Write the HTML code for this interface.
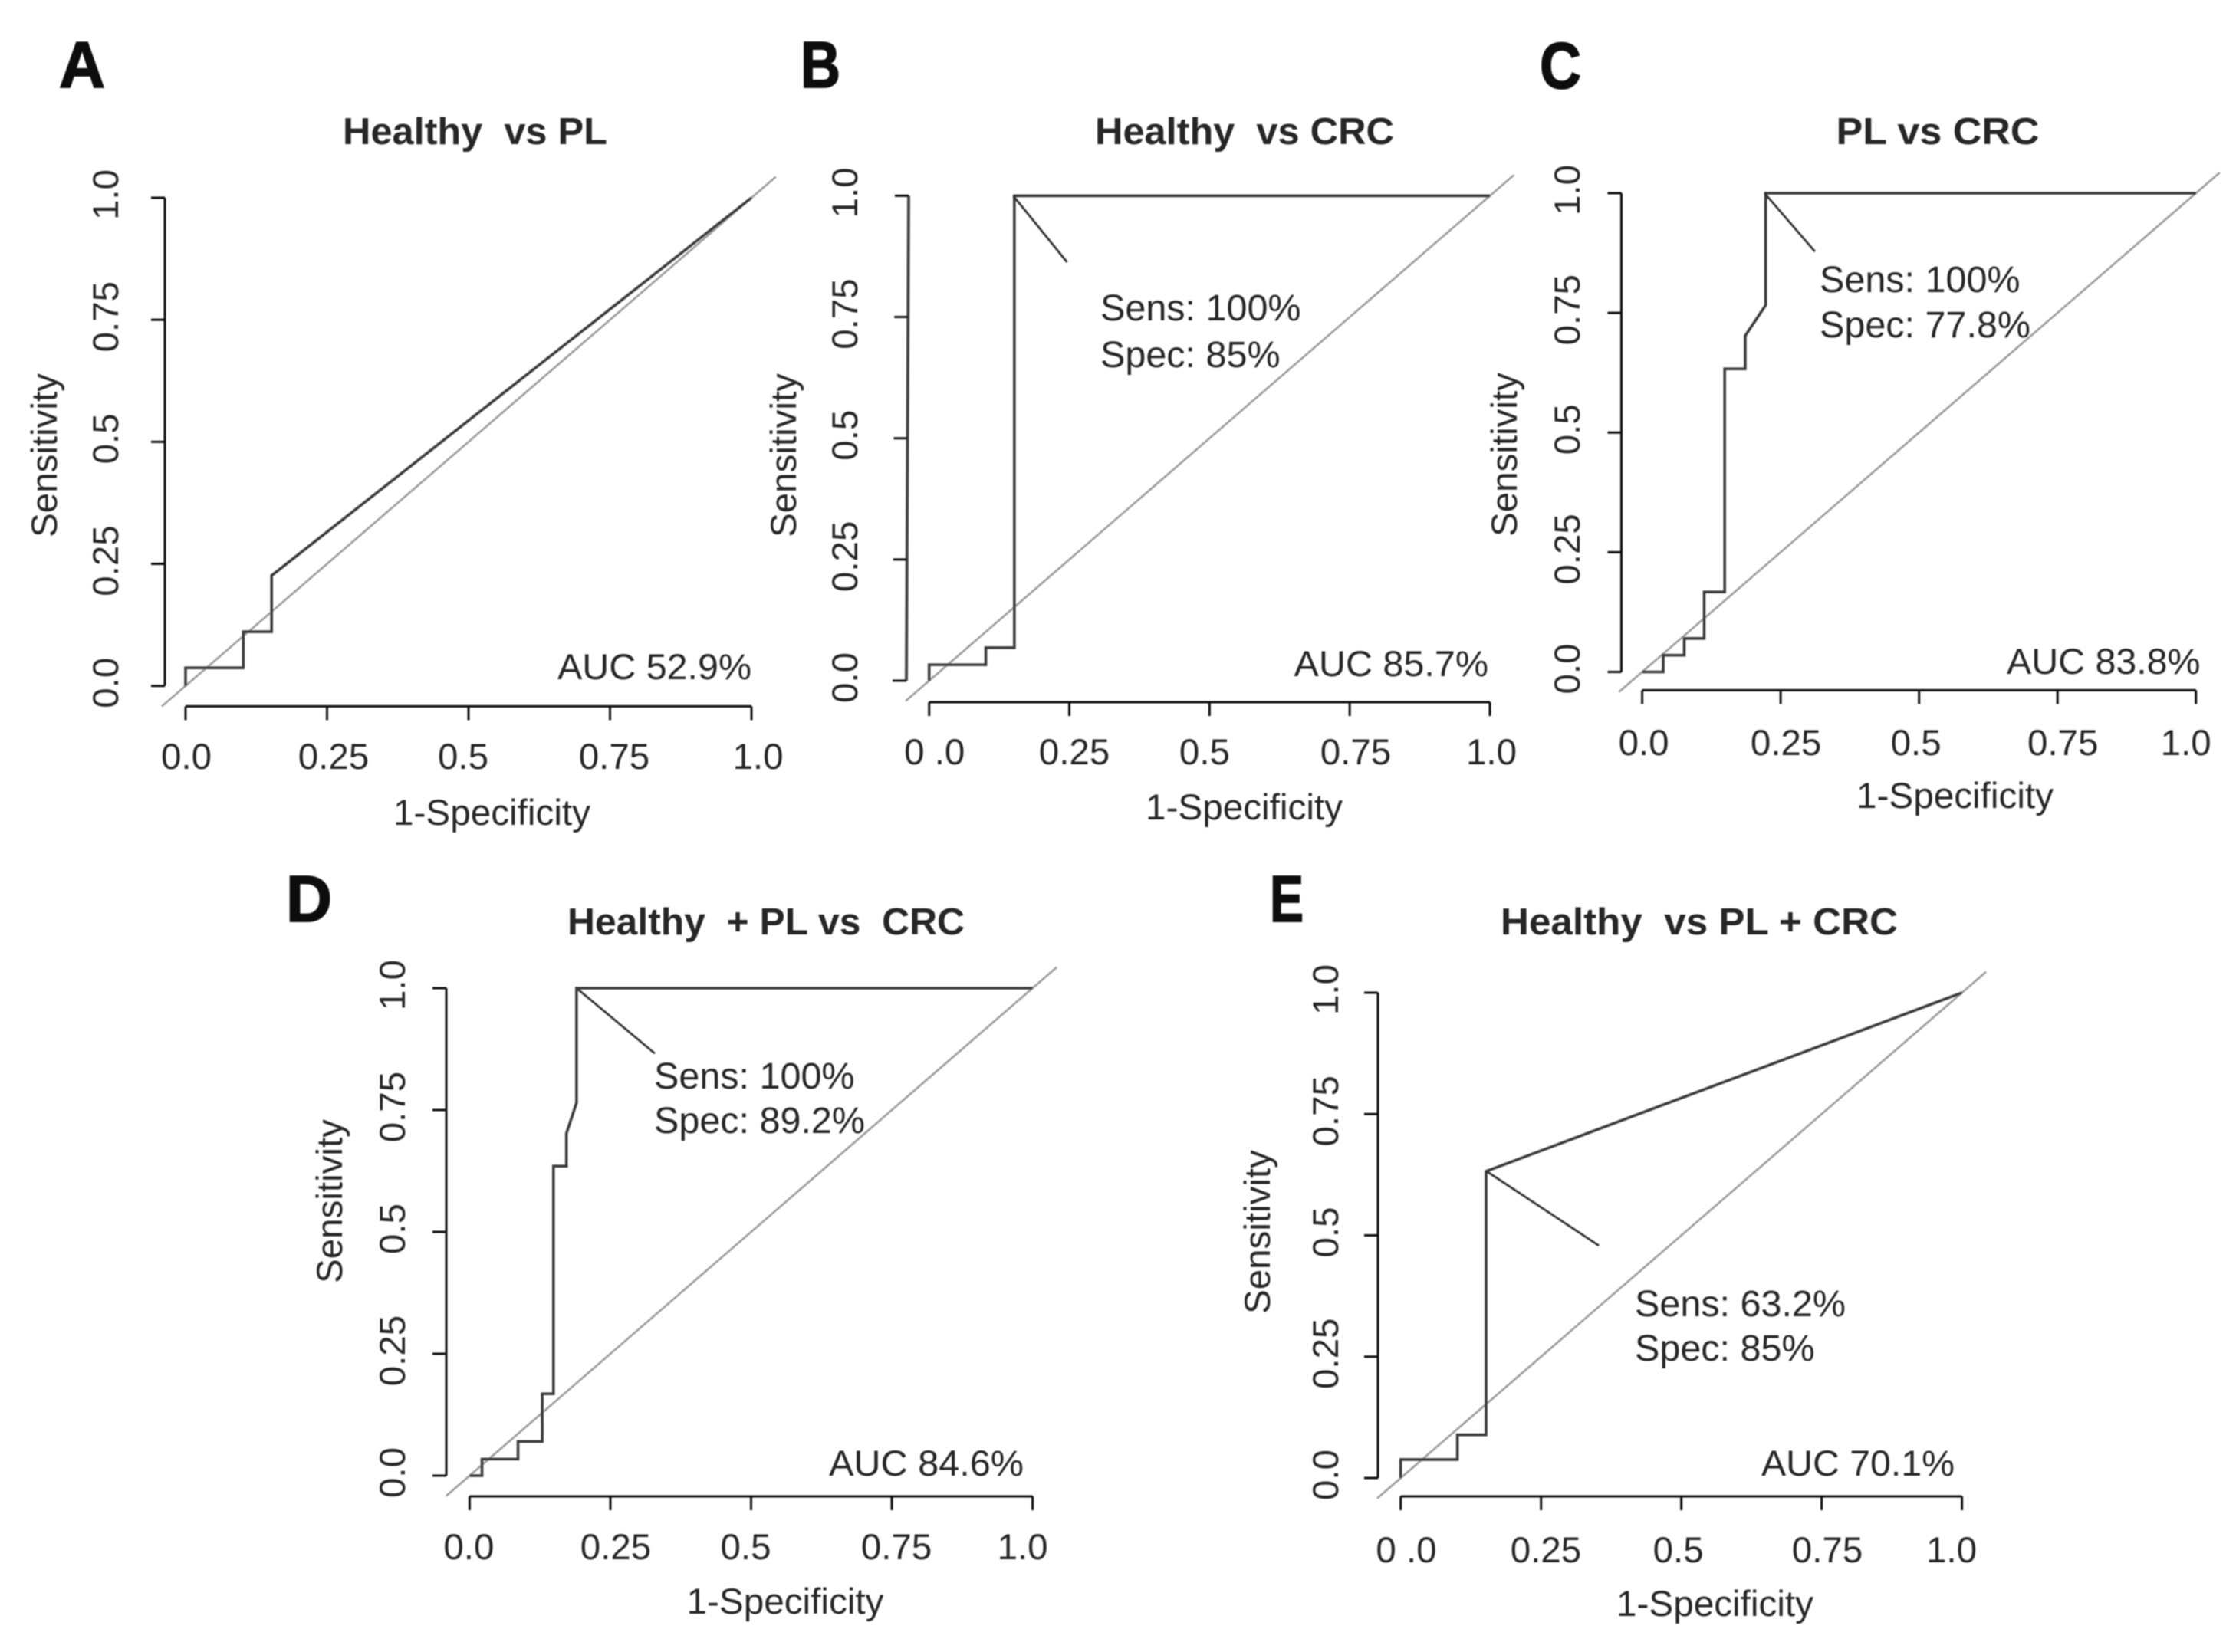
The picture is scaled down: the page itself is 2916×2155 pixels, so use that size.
<!DOCTYPE html>
<html lang="en">
<head>
<meta charset="utf-8">
<title>ROC curves</title>
<style>
html,body{margin:0;padding:0;background:#fff;}
svg{display:block;}
text{font-family:"Liberation Sans",Arial,sans-serif;fill:#262626;white-space:pre;}
</style>
</head>
<body>
<svg id="figure" width="2916" height="2155" viewBox="0 0 2916 2155" xmlns="http://www.w3.org/2000/svg">
<defs><filter id="soft" x="-2%" y="-2%" width="104%" height="104%"><feGaussianBlur stdDeviation="0.9"/></filter></defs>
<rect width="2916" height="2155" fill="#fff"/>
<g id="root" filter="url(#soft)"></g>
</svg>
<script>
// Shared axis data
const tickValues = [0, 0.25, 0.5, 0.75, 1];
const yTickLabels = ['0.0', '0.25', '0.5', '0.75', '1.0'];
const diagonalEnds = [-0.042, 1.043];

// Panel A
const aFpr = [0, 0, 0.102, 0.102, 0.152, 0.152, 1];
const aTpr = [0, 0.037, 0.037, 0.111, 0.111, 0.226, 1];
const aXLabels = ['0.0', '0.25', '0.5', '0.75', '1.0'];
const aAuc = 'AUC 52.9%';

// Panel B
const bFpr = [0, 0, 0.101, 0.101, 0.152, 0.152, 1];
const bTpr = [0, 0.033, 0.033, 0.068, 0.068, 1, 1];
const bCalloutFpr = [0.15, 0.246];
const bCalloutTpr = [1, 0.863];
const bXLabels = ['0 .0', '0.25', '0.5', '0.75', '1.0'];
const bAuc = 'AUC 85.7%';
const bNotes = ['Sens: 100%', 'Spec: 85%'];

// Panel C
const cFpr = [0, 0.038, 0.038, 0.076, 0.076, 0.112, 0.112, 0.149, 0.149, 0.186, 0.186, 0.223, 0.223, 1];
const cTpr = [0, 0, 0.035, 0.035, 0.07, 0.07, 0.167, 0.167, 0.633, 0.633, 0.702, 0.766, 1, 1];
const cCalloutFpr = [0.221, 0.312];
const cCalloutTpr = [1, 0.878];
const cXLabels = ['0.0', '0.25', '0.5', '0.75', '1.0'];
const cAuc = 'AUC 83.8%';
const cNotes = ['Sens: 100%', 'Spec: 77.8%'];

// Panel D
const dFpr = [0, 0.022, 0.022, 0.086, 0.086, 0.129, 0.129, 0.149, 0.149, 0.172, 0.172, 0.19, 0.19, 1];
const dTpr = [0, 0, 0.034, 0.034, 0.07, 0.07, 0.168, 0.168, 0.635, 0.635, 0.702, 0.765, 1, 1];
const dCalloutFpr = [0.192, 0.329];
const dCalloutTpr = [0.998, 0.866];
const dXLabels = ['0.0', '0.25', '0.5', '0.75', '1.0'];
const dAuc = 'AUC 84.6%';
const dNotes = ['Sens: 100%', 'Spec: 89.2%'];

// Panel E
const eFpr = [0, 0, 0.101, 0.101, 0.152, 0.152, 1];
const eTpr = [0, 0.038, 0.038, 0.089, 0.089, 0.632, 1];
const eCalloutFpr = [0.153, 0.353];
const eCalloutTpr = [0.632, 0.479];
const eXLabels = ['0 .0', '0.25', '0.5', '0.75', '1.0'];
const eAuc = 'AUC 70.1%';
const eNotes = ['Sens: 63.2%', 'Spec: 85%'];

const NS = 'http://www.w3.org/2000/svg';
const root = document.getElementById('root');

function svgEl(tag, name, parent) {
  const el = document.createElementNS(NS, tag);
  
  
  parent.appendChild(el);
  return el;
}
function drawLine(parent, name, x1, y1, x2, y2, color, width) {
  const el = svgEl('line', name, parent);
  el.setAttribute('x1', x1);
  el.setAttribute('y1', y1);
  el.setAttribute('x2', x2);
  el.setAttribute('y2', y2);
  el.setAttribute('stroke', color);
  el.setAttribute('stroke-width', width);
  return el;
}
function drawText(parent, name, str, x, y, size, opts) {
  const el = svgEl('text', name, parent);
  const o = opts || {};
  el.setAttribute('x', x);
  el.setAttribute('y', y);
  el.setAttribute('font-size', size);
  if (o.bold) el.setAttribute('font-weight', 'bold');
  if (o.anchor) el.setAttribute('text-anchor', o.anchor);
  if (o.length) {
    el.setAttribute('textLength', o.length);
    el.setAttribute('lengthAdjust', 'spacingAndGlyphs');
  }
  if (o.stroke) {
    el.setAttribute('stroke', '#111');
    el.setAttribute('stroke-width', o.stroke);
    el.style.fill = '#111';
  }
  if (o.rotate) el.setAttribute('transform', 'rotate(-90 ' + x + ' ' + y + ')');
  el.textContent = str;
  return el;
}

function drawPanel(p) {
  const g = svgEl('g', 'panel-' + p.id, root);
  const sx = v => p.x0 + v * (p.x1 - p.x0);
  const sy = v => p.y0 + v * (p.y1 - p.y0);

  drawText(g, 'panel-letter', p.letter, p.letterX, p.letterY, p.letterSize, {bold: true, length: p.letterW, stroke: 1.8});
  drawText(g, 'panel-title', p.title, p.titleX, p.titleY, 49, {bold: true, length: p.titleW});

  // diagonal reference
  drawLine(g, 'chance-diagonal', sx(diagonalEnds[0]), sy(diagonalEnds[0]), sx(diagonalEnds[1]), sy(diagonalEnds[1]), '#9a9a9a', 2.6);

  // x axis
  drawLine(g, 'x-axis-line', sx(0), p.xAxisY, sx(1), p.xAxisY, '#111', 3);
  tickValues.forEach((t, i) => {
    drawLine(g, 'x-axis-tick', sx(t), p.xAxisY, sx(t), p.xAxisY + 18, '#111', 3);
    drawText(g, 'x-tick-label', p.xLabels[i], sx(t) + p.xDx[i], p.xTickY, 47.5, {anchor: 'middle'});
  });
  drawText(g, 'x-axis-title', '1-Specificity', p.xTitleX, p.xTitleY, 47.5, {length: 257});

  // y axis
  drawLine(g, 'y-axis-line', p.yAxisX, sy(1), p.yAxisX - p.slant, sy(0), p.slant ? '#444' : '#111', p.slant ? 4 : 3);
  tickValues.forEach((t, i) => {
    const ax = p.yAxisX - p.slant * (1 - t);
    drawLine(g, 'y-axis-tick', ax, sy(t), ax - 18, sy(t), '#111', 3);
    drawText(g, 'y-tick-label', yTickLabels[i], p.yTickX, sy(t) - 4, 47.5, {anchor: 'middle', rotate: true});
  });
  drawText(g, 'y-axis-title', 'Sensitivity', p.yTitleX, p.yTitleY, 47.5, {anchor: 'middle', rotate: true});

  // ROC curve
  const curve = svgEl('polyline', 'roc-curve', g);
  curve.setAttribute('points', p.fpr.map((v, i) => sx(v) + ',' + sy(p.tpr[i])).join(' '));
  curve.setAttribute('fill', 'none');
  curve.setAttribute('stroke', '#3a3a3a');
  curve.setAttribute('stroke-width', 3.6);

  // callout
  if (p.calloutFpr) {
    drawLine(g, 'optimal-point-callout', sx(p.calloutFpr[0]), sy(p.calloutTpr[0]), sx(p.calloutFpr[1]), sy(p.calloutTpr[1]), '#333', 2.8);
    drawText(g, 'sensitivity-note', p.notes[0], p.noteX, p.noteY[0], 48.5);
    drawText(g, 'specificity-note', p.notes[1], p.noteX, p.noteY[1], 48.5);
  }
  drawText(g, 'auc-label', p.auc, p.aucX, p.aucY, 47.5, {length: p.aucW + 2});
}

drawPanel({id:'a', letter:'A', title:'Healthy  vs PL', x0:242, x1:980, y0:894.7, y1:258, xAxisY:921.4, yAxisX:215, slant:0,
  fpr:aFpr, tpr:aTpr, xLabels:aXLabels, auc:aAuc,
  letterX:77, letterY:114, letterSize:85, letterW:60,
  titleX:447, titleY:188, titleW:345,
  xDx:[1,8.5,-7,5.5,8.5], xTickY:1003, xTitleX:513, xTitleY:1076,
  yTickX:154, yTitleX:74, yTitleY:594,
  aucX:727, aucY:886, aucW:251});
drawPanel({id:'b', letter:'B', title:'Healthy  vs CRC', x0:1211.7, x1:1943, y0:888, y1:255.4, xAxisY:916, yAxisX:1185, slant:3,
  fpr:bFpr, tpr:bTpr, calloutFpr:bCalloutFpr, calloutTpr:bCalloutTpr, xLabels:bXLabels, auc:bAuc, notes:bNotes,
  noteX:1435, noteY:[418,479],
  letterX:1044, letterY:114, letterSize:85, letterW:52,
  titleX:1428, titleY:188, titleW:390,
  xDx:[7,6.5,-6.4,7.8,2], xTickY:997, xTitleX:1494, xTitleY:1069,
  yTickX:1118, yTitleX:1038, yTitleY:594,
  aucX:1687.5, aucY:882, aucW:251.5});
drawPanel({id:'c', letter:'C', title:'PL vs CRC', x0:2141.6, x1:2863.7, y0:876.5, y1:252, xAxisY:900.4, yAxisX:2114.5, slant:0,
  fpr:cFpr, tpr:cTpr, calloutFpr:cCalloutFpr, calloutTpr:cCalloutTpr, xLabels:cXLabels, auc:cAuc, notes:cNotes,
  noteX:2373, noteY:[381,440],
  letterX:2008, letterY:115, letterSize:85, letterW:54,
  titleX:2394.5, titleY:188, titleW:265,
  xDx:[2,7,-4,7,-13], xTickY:985, xTitleX:2421, xTitleY:1054,
  yTickX:2060, yTitleX:1978, yTitleY:593,
  aucX:2617, aucY:879, aucW:250.5});
drawPanel({id:'d', letter:'D', title:'Healthy  + PL vs  CRC', x0:612.4, x1:1346.6, y0:1925, y1:1289, xAxisY:1952, yAxisX:582, slant:0,
  fpr:dFpr, tpr:dTpr, calloutFpr:dCalloutFpr, calloutTpr:dCalloutTpr, xLabels:dXLabels, auc:dAuc, notes:dNotes,
  noteX:853, noteY:[1420,1478],
  letterX:373, letterY:1202, letterSize:85, letterW:60,
  titleX:740, titleY:1219, titleW:518,
  xDx:[-1,7,-7,6,-13], xTickY:2034, xTitleX:895.5, xTitleY:2105,
  yTickX:528, yTitleX:446, yTitleY:1567,
  aucX:1081, aucY:1925, aucW:252});
drawPanel({id:'e', letter:'E', title:'Healthy  vs PL + CRC', x0:1826.7, x1:2558.6, y0:1928, y1:1295, xAxisY:1952, yAxisX:1797, slant:0,
  fpr:eFpr, tpr:eTpr, calloutFpr:eCalloutFpr, calloutTpr:eCalloutTpr, xLabels:eXLabels, auc:eAuc, notes:eNotes,
  noteX:2132, noteY:[1717,1775],
  letterX:1656, letterY:1202, letterSize:85, letterW:44,
  titleX:1957, titleY:1219, titleW:518,
  xDx:[7.3,6.3,-4,7.4,-13.6], xTickY:2038, xTitleX:2108, xTitleY:2108,
  yTickX:1745, yTitleX:1656, yTitleY:1607,
  aucX:2297, aucY:1925, aucW:250});
</script>
</body>
</html>
